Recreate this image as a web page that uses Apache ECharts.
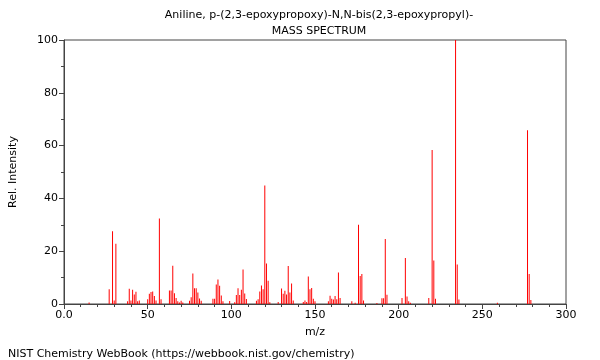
<!DOCTYPE html>
<html>
<head>
<meta charset="utf-8">
<script src="https://cdn.jsdelivr.net/npm/echarts@6/dist/echarts.min.js"></script>
<style>html,body{margin:0;padding:0;background:#fff}#c{width:600px;height:360px}</style>
</head>
<body>
<div id="c"></div>
<script>
const titleLines = ["Aniline, p-(2,3-epoxypropoxy)-N,N-bis(2,3-epoxypropyl)-", "MASS SPECTRUM"];
const footer = "NIST Chemistry WebBook (https://webbook.nist.gov/chemistry)";
const xTickLabels = {0: "0.0"};
const mz = [15,27,29,30,31,38,39,40,41,42,43,44,45,50,51,52,53,54,55,57,58,
  63,64,65,66,67,68,69,70,71,75,76,77,78,79,80,81,82,89,90,91,92,93,94,95,99,
  102,103,104,105,106,107,108,109,115,116,117,118,119,120,121,122,123,128,
  130,131,132,133,134,135,136,137,143,144,145,146,147,148,149,150,
  158,159,160,161,162,163,164,165,172,174,176,177,178,179,187,190,191,192,193,
  202,204,205,206,207,218,220,221,222,234,235,236,259,277,278,279];
const intensity = [0.6,5.6,27.6,1.3,22.8,1,5.8,1.3,5.4,3.6,4.6,1,1.3,1.8,3.9,4.5,4.7,3.0,1.3,32.4,1.8,
  5.1,5.1,14.5,4.1,2.3,1,0.6,1.2,0.6,1.2,2.6,11.6,6.0,6.0,4.4,2.1,1.2,2.0,2.0,7.4,9.3,6.9,3.2,1,1.1,
  0.7,3.4,6.0,3.4,5.4,13.1,4.0,1.9,1.2,1.8,4.7,7.0,5.6,44.9,15.3,8.8,0.7,0.8,
  5.9,3.9,5.0,3.6,14.4,4.4,7.8,1.3,0.8,1.3,0.8,10.4,5.6,6.1,2.0,1,
  1,3.1,2,1.7,3.0,1.8,11.9,2.3,1,0.5,30.0,10.6,11.4,1.3,0.4,2.2,2.2,24.6,3.5,
  2.3,17.4,2.8,1,0.5,2.3,58.3,16.5,2,100,15,1.7,0.5,65.8,11.4,1.5];

const data = mz.map((m, i) => [m, intensity[i]]);
const font = "DejaVu Sans";
const chart = echarts.init(document.getElementById('c'), null, {renderer: 'canvas'});
chart.setOption({
  animation: false,
  backgroundColor: '#fff',
  textStyle: {fontFamily: font},
  title: [
    {text: titleLines[0], left: 314, top: 5, textAlign: 'center',
     textStyle: {fontFamily: font, fontSize: 11, fontWeight: 'normal', color: '#000'}},
    {text: titleLines[1], left: 314, top: 21, textAlign: 'center',
     textStyle: {fontFamily: font, fontSize: 11, fontWeight: 'normal', color: '#000'}},
    {text: footer, left: 3, top: 344,
     textStyle: {fontFamily: font, fontSize: 11, fontWeight: 'normal', color: '#000'}}
  ],
  grid: {left: 62, right: 34, top: 40, bottom: 56, show: true, borderColor: '#444', borderWidth: 1, backgroundColor: 'transparent'},
  xAxis: {
    type: 'value', min: 0, max: 300, interval: 50,
    name: 'm/z', nameLocation: 'middle', nameGap: 23,
    nameTextStyle: {fontFamily: font, fontSize: 11, color: '#000'},
    axisLine: {show: true, onZero: false, lineStyle: {color: '#444', width: 1}},
    axisTick: {show: true, inside: false, length: 5, lineStyle: {color: '#444'}},
    minorTick: {show: true, splitNumber: 5, length: 3, lineStyle: {color: '#444'}},
    splitLine: {show: false},
    axisLabel: {fontFamily: font, fontSize: 11, color: '#000', margin: 6,
      formatter: v => (xTickLabels[v] !== undefined ? xTickLabels[v] : String(v))}
  },
  yAxis: {
    type: 'value', min: 0, max: 100, interval: 20,
    name: 'Rel. Intensity', nameLocation: 'middle', nameGap: 45, nameRotate: 90,
    nameTextStyle: {fontFamily: font, fontSize: 11, color: '#000'},
    axisLine: {show: true, lineStyle: {color: '#444', width: 1}},
    axisTick: {show: true, inside: false, length: 5, lineStyle: {color: '#444'}},
    minorTick: {show: true, splitNumber: 2, length: 3, lineStyle: {color: '#444'}},
    splitLine: {show: false},
    axisLabel: {fontFamily: font, fontSize: 11, color: '#000', margin: 6}
  },
  series: [{
    type: 'bar',
    data: data,
    barWidth: 1,
    itemStyle: {color: '#ff0000'},
    silent: true
  }]
});
</script>
</body>
</html>
